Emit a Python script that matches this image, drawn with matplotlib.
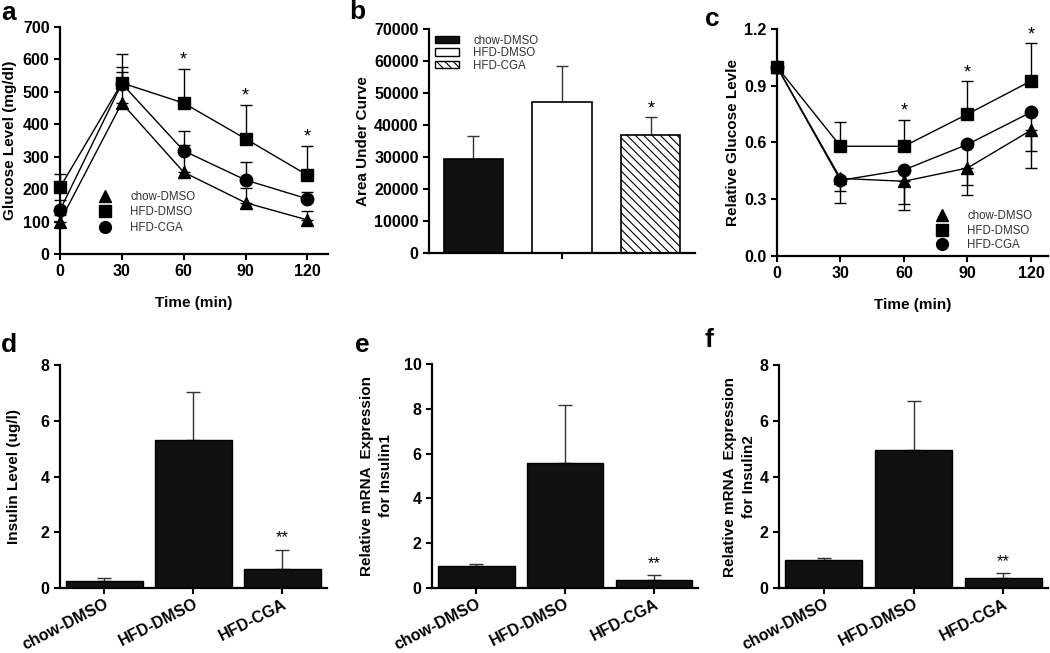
import numpy as np
import matplotlib
matplotlib.use('Agg')
import matplotlib.pyplot as plt
from matplotlib.patches import Patch
from matplotlib.lines import Line2D

plt.rcParams['font.family'] = ['Liberation Sans', 'DejaVu Sans']
plt.rcParams['hatch.linewidth'] = 0.8

# --- data ---
groups = ['chow-DMSO', 'HFD-DMSO', 'HFD-CGA']
time_min = [0, 30, 60, 90, 120]

# a: glucose tolerance
gtt_chow = [100, 465, 252, 158, 105]
gtt_chow_err = [20, 95, 83, 45, 29]
gtt_hfd = [205, 527, 465, 355, 243]
gtt_hfd_err = [42, 90, 106, 105, 91]
gtt_cga = [135, 525, 318, 228, 170]
gtt_cga_err = [30, 51, 60, 54, 20]
gtt_star_times = [60, 90, 120]

# b: area under curve
auc = [29500, 47200, 36800]
auc_err = [7200, 11100, 5700]

# c: relative glucose (insulin tolerance)
itt_chow = [1.0, 0.41, 0.395, 0.465, 0.665]
itt_chow_err = [0.0, 0.13, 0.15, 0.145, 0.20]
itt_hfd = [1.0, 0.58, 0.58, 0.75, 0.925]
itt_hfd_err = [0.0, 0.13, 0.14, 0.175, 0.20]
itt_cga = [1.0, 0.40, 0.455, 0.59, 0.76]
itt_cga_err = [0.0, 0.055, 0.18, 0.215, 0.205]
itt_star_times = [60, 90, 120]

# d, e, f: bar charts
insulin = [0.27, 5.3, 0.7]
insulin_err = [0.08, 1.72, 0.68]
ins1 = [1.0, 5.6, 0.38]
ins1_err = [0.07, 2.55, 0.2]
ins2 = [1.0, 4.95, 0.35]
ins2_err = [0.07, 1.75, 0.18]
bar_stars = ['', '', '**']

fig = plt.figure(figsize=(10.5, 6.53), dpi=100)

BOLD = dict(fontweight='bold')
TICK_FS = 11.5
LAB_FS = 11
LEG_FS = 8.3
LEG_COLOR = '#333333'


def style_axes(ax):
    for s in ['top', 'right']:
        ax.spines[s].set_visible(False)
    for s in ['left', 'bottom']:
        ax.spines[s].set_linewidth(1.6)
    ax.tick_params(direction='out', length=4, width=1.5, labelsize=TICK_FS)
    for lab in ax.get_xticklabels() + ax.get_yticklabels():
        lab.set_fontweight('bold')


def line_panel(ax, series, errs, directions):
    markers = ['^', 's', 'o']
    for ys, es, m, d in zip(series, errs, markers, directions):
        ys = np.array(ys, dtype=float)
        es = np.array(es, dtype=float)
        zero = np.zeros_like(es)
        yerr = [zero, es] if d == 'up' else [es, zero]
        ax.errorbar(time_min, ys, yerr=yerr, fmt='none', ecolor='black',
                    elinewidth=1, capsize=4, capthick=1, zorder=2, clip_on=False)
        ax.plot(time_min, ys, color='black', lw=1, marker=m, ms=9,
                zorder=3, clip_on=False)


# ---------- a ----------
ax_a = fig.add_axes([0.0571, 0.611, 0.2553, 0.348])
line_panel(ax_a, [gtt_chow, gtt_hfd, gtt_cga],
           [gtt_chow_err, gtt_hfd_err, gtt_cga_err], ['up', 'up', 'up'])
ax_a.set_xlim(0, 130)
ax_a.set_ylim(0, 700)
ax_a.set_xticks(time_min)
ax_a.set_yticks(range(0, 701, 100))
ax_a.set_xlabel('Time (min)', fontsize=LAB_FS, labelpad=12, **BOLD)
ax_a.set_ylabel('Glucose Level (mg/dl)', fontsize=LAB_FS, labelpad=4, **BOLD)
for t in gtt_star_times:
    i = time_min.index(t)
    ax_a.text(t, gtt_hfd[i] + gtt_hfd_err[i], '*', ha='center', va='bottom',
              fontsize=13)
style_axes(ax_a)

handles = [Line2D([], [], color='black', marker=m, ls='none', ms=8.5)
           for m in ['^', 's', 'o']]
ax_a.legend(handles, groups, loc='lower left', bbox_to_anchor=(0.146, 0.09),
            frameon=False, fontsize=LEG_FS, handlelength=1, handletextpad=1.7,
            labelspacing=0.3, borderpad=0, borderaxespad=0, labelcolor=LEG_COLOR)

# ---------- b ----------
ax_b = fig.add_axes([0.4086, 0.6126, 0.2534, 0.343])
xb = np.arange(len(groups))
faces = ['#111111', 'white', 'white']
hatches = [None, None, '\\\\\\\\']
for x, v, e, fc, h in zip(xb, auc, auc_err, faces, hatches):
    ax_b.bar(x, v, width=0.67, color=fc, edgecolor='black', linewidth=1.2,
             hatch=h, zorder=2)
    ax_b.errorbar(x, v, yerr=[[0], [e]], fmt='none', ecolor='#333333',
                  elinewidth=1, capsize=4, capthick=1, zorder=1)
ax_b.text(2, auc[2] + auc_err[2], '*', ha='center', va='bottom', fontsize=13)
ax_b.set_xlim(-0.5, 2.5)
ax_b.set_ylim(0, 70000)
ax_b.set_yticks(range(0, 70001, 10000))
ax_b.set_xticks([1])
ax_b.set_xticklabels([''])
ax_b.set_ylabel('Area Under Curve', fontsize=LAB_FS, labelpad=3, **BOLD)
style_axes(ax_b)
leg_patches = [Patch(facecolor=fc, edgecolor='black', hatch=h, linewidth=1)
               for fc, h in zip(faces, hatches)]
ax_b.legend(leg_patches, groups, loc='upper left', bbox_to_anchor=(0.023, 0.975),
            frameon=False, fontsize=LEG_FS, handlelength=2.1, handleheight=0.6,
            handletextpad=1.2, labelspacing=0.05, borderpad=0, borderaxespad=0,
            labelcolor=LEG_COLOR)

# ---------- c ----------
ax_c = fig.add_axes([0.74, 0.608, 0.258, 0.3476])
line_panel(ax_c, [itt_chow, itt_hfd, itt_cga],
           [itt_chow_err, itt_hfd_err, itt_cga_err], ['down', 'up', 'down'])
ax_c.set_xlim(0, 128)
ax_c.set_ylim(0, 1.2)
ax_c.set_xticks(time_min)
ax_c.set_yticks([0.0, 0.3, 0.6, 0.9, 1.2])
ax_c.set_yticklabels(['0.0', '0.3', '0.6', '0.9', '1.2'])
ax_c.set_xlabel('Time (min)', fontsize=LAB_FS, labelpad=12, **BOLD)
ax_c.set_ylabel('Relative Glucose Levle', fontsize=LAB_FS, labelpad=3, **BOLD)
for t in itt_star_times:
    i = time_min.index(t)
    ax_c.text(t, itt_hfd[i] + itt_hfd_err[i], '*', ha='center', va='bottom',
              fontsize=13, clip_on=False)
style_axes(ax_c)
ax_c.legend(handles, groups, loc='lower left', bbox_to_anchor=(0.587, 0.02),
            frameon=False, fontsize=LEG_FS, handlelength=1, handletextpad=1.7,
            labelspacing=0.25, borderpad=0, borderaxespad=0, labelcolor=LEG_COLOR)


# ---------- d, e, f ----------
def bar_panel(rect, vals, errs, ymax, ylabel, pad):
    ax = fig.add_axes(rect)
    x = np.arange(len(groups))
    ax.bar(x, vals, width=0.86, color='#111111', edgecolor='black',
           linewidth=1, zorder=2)
    ax.errorbar(x, vals, yerr=[np.zeros(len(errs)), errs], fmt='none',
                ecolor='#333333', elinewidth=1, capsize=5, capthick=1, zorder=1)
    for xi, v, e, s in zip(x, vals, errs, bar_stars):
        if s:
            ax.annotate(s, (xi, v + e), xytext=(0, 3), textcoords='offset points',
                        ha='center', va='bottom', fontsize=12)
    ax.set_xlim(-0.5, 2.5)
    ax.set_ylim(0, ymax)
    ax.set_yticks(range(0, ymax + 1, 2))
    ax.set_xticks(x)
    ax.set_xticklabels(groups, rotation=27, ha='right', rotation_mode='anchor')
    ax.set_ylabel(ylabel, fontsize=LAB_FS, labelpad=pad, linespacing=1.45, **BOLD)
    style_axes(ax)
    ax.tick_params(axis='x', pad=2)
    return ax


bar_panel([0.0571, 0.0995, 0.2543, 0.3415], insulin, insulin_err, 8,
          'Insulin Level (ug/l)', 14)
bar_panel([0.4114, 0.0995, 0.2536, 0.3431], ins1, ins1_err, 10,
          'Relative mRNA  Expression\nfor Insulin1', 8)
bar_panel([0.742, 0.0995, 0.256, 0.3415], ins2, ins2_err, 8,
          'Relative mRNA  Expression\nfor Insulin2', 3)

# panel letters
for x, y, s in [(0.001, 0.998, 'a'), (0.333, 1.0, 'b'), (0.671, 0.99, 'c'),
                (0.001, 0.49, 'd'), (0.338, 0.49, 'e'), (0.671, 0.497, 'f')]:
    fig.text(x, y, s, fontsize=19, fontweight='bold', va='top', ha='left')

fig.savefig('out.png', dpi=100)
